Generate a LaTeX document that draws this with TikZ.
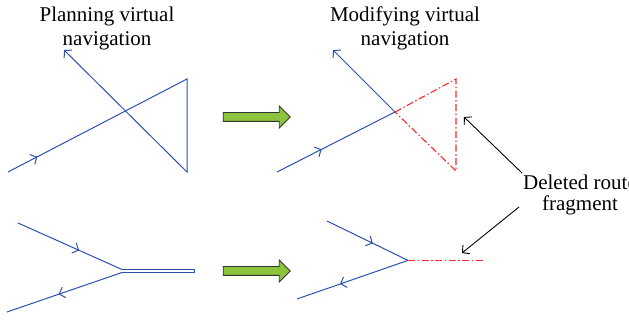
\documentclass[tikz,border=0pt]{standalone}
\usepackage{fontspec}
\setmainfont{Liberation Serif}
\usetikzlibrary{arrows.meta,decorations.markings,shapes.arrows}
\definecolor{routeblue}{RGB}{45,80,175}
\definecolor{delred}{RGB}{250,40,40}
\definecolor{arrgreen}{RGB}{140,195,60}
\begin{document}
\begin{tikzpicture}[x=1pt,y=-1pt,
  route/.style={routeblue, line width=1pt},
  deleted/.style={draw=delred, line width=1.1pt, dash pattern=on 7pt off 2.5pt on 1.5pt off 2.5pt},
  tipend/.style={-{Straight Barb[length=5pt,width=11pt]}},
  midarrow/.style={postaction={decorate}, decoration={markings, mark=at position #1 with {\arrow{Straight Barb[length=5pt,width=11pt]}}}},
  title/.style={font=\fontsize{21}{24}\selectfont, align=center, inner sep=0pt},
  bigarrow/.style={single arrow, draw=black!80, line width=0.9pt, fill=arrgreen, inner xsep=0pt, inner ysep=4pt,
    minimum height=67pt, minimum width=21pt, single arrow head extend=6.5pt, single arrow head indent=0pt},
  pointer/.style={black, line width=0.9pt, -{Straight Barb[length=5pt,width=11pt]}}]
\useasboundingbox (0,0) rectangle (629,320);

% titles
\node[title] (t1) at (107,28) {Planning virtual\\navigation};
\node[title] (t2) at (405,28) {Modifying virtual\\navigation};

% panel 1
\coordinate (a0) at (8,172);
\coordinate (a1) at (187,79);
\coordinate (a2) at (187,172);
\coordinate (a3) at (64,50);
\draw[route, tipend, midarrow=33pt] (a0) -- (a1) -- (a2) -- (a3);

% panel 2
\coordinate (b0) at (277,172);
\coordinate (bj) at (395,112);
\coordinate (b3) at (333,50);
\coordinate (b1) at (456,79);
\coordinate (b2) at (456,171);
\draw[route, midarrow=50pt] (b0) -- (bj);
\draw[route, tipend] (bj) -- (b3);
\draw[deleted] (bj) -- (b1) -- (b2) -- cycle;

% panel 4 deleted fragment
\coordinate (d0) at (327,221);
\coordinate (dj) at (408,260.4);
\coordinate (d3) at (297,299);
\coordinate (de) at (483,260.4);
\draw[deleted] (dj) -- (de);

% panel 3
\coordinate (c0) at (18,223);
\coordinate (cj1) at (122,269.5);
\coordinate (cj2) at (122,272.5);
\coordinate (ce1) at (194,269.5);
\coordinate (ce2) at (194,272.5);
\coordinate (c3) at (7,312);
\draw[route, midarrow=67pt] (c0) -- (cj1);
\draw[route, midarrow=67pt] (cj2) -- (c3);
\draw[route] (cj1) -- (ce1) -- (ce2) -- (cj2);

% panel 4
\draw[route, midarrow=51pt] (d0) -- (dj);
\draw[route, midarrow=72pt] (dj) -- (d3);

% green arrows
\node[bigarrow] (g1) at (254.5,117) {};
\node[bigarrow] (g2) at (254.5,271) {};

% label
\node[title, font=\fontsize{21}{21}\selectfont] (lbl) at (580,195) {Deleted route\\fragment};
\coordinate (s1) at (522,173);
\coordinate (e1) at (464,117);
\coordinate (s2) at (519,207);
\coordinate (e2) at (462,253);
\draw[pointer] (s1) -- (e1);
\draw[pointer] (s2) -- (e2);
\end{tikzpicture}
\end{document}
